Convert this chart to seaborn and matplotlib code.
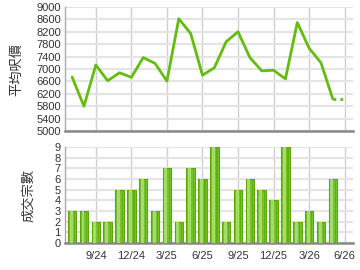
import matplotlib
matplotlib.use("Agg")
import matplotlib.pyplot as plt
import seaborn as sns
import numpy as np
import pandas as pd

months = ["7/24", "8/24", "9/24", "10/24", "11/24", "12/24", "1/25", "2/25", "3/25",
          "4/25", "5/25", "6/25", "7/25", "8/25", "9/25", "10/25", "11/25", "12/25",
          "1/26", "2/26", "3/26", "4/26", "5/26"]
avg_price = [6740, 5800, 7130, 6620, 6880, 6730, 7370, 7180, 6610,
             8620, 8150, 6800, 7040, 7880, 8200, 7370, 6940, 6960,
             6680, 8500, 7670, 7200, 6030]
deals = [3, 3, 2, 2, 5, 5, 6, 3, 7, 2, 7, 6, 9, 2, 5, 6, 5, 4, 9, 2, 3, 2, 6]
tick_labels = ["9/24", "12/24", "3/25", "6/25", "9/25", "12/25", "3/26", "6/26"]
tick_pos = [2, 5, 8, 11, 14, 17, 20, 23]

sns.set_theme(style="white")
plt.rcParams['font.family'] = ['Liberation Sans', 'DejaVu Sans']

df = pd.DataFrame({"idx": np.arange(len(months)), "month": months,
                   "price": avg_price, "deals": deals})

fig = plt.figure(figsize=(3.6, 2.7), dpi=100)
ax1 = fig.add_axes([65/360, 1-131/270, 288/360, 124/270])
ax2 = fig.add_axes([65/360, 1-243/270, 288/360, 96/270])

line_col = "#66bb11"
hgrid = "#e4e4e4"
vgrid = "#cfcfcf"
tick_col = "#333333"
cjk = ['Noto Sans CJK TC', 'DejaVu Sans']

for ax in (ax1, ax2):
    ax.set_xlim(-0.6, 23.7)
    for t in tick_pos:
        ax.axvline(t, color=vgrid, lw=1, zorder=0)
    for s in ("top", "right"):
        ax.spines[s].set_visible(False)
    ax.spines["left"].set_color("#aaaaaa")
    ax.spines["left"].set_linewidth(1)
    ax.spines["bottom"].set_color("#888888")
    ax.spines["bottom"].set_linewidth(1.8)
    ax.tick_params(axis="y", length=0, labelsize=8, colors=tick_col, pad=3)

# Top: line chart
yt1 = np.arange(5000, 9001, 400)
for v in yt1:
    ax1.axhline(v, color=hgrid, lw=1.6, zorder=0)
sns.lineplot(data=df, x="idx", y="price", ax=ax1, color=line_col, lw=2, zorder=3)
ax1.plot([df["idx"].iloc[-1], df["idx"].iloc[-1] + 1],
         [avg_price[-1], avg_price[-1]], color=line_col, lw=2, ls=(0, (1, 1.5)), zorder=3)
ax1.set_ylim(5000, 9000)
ax1.set_yticks(yt1)
ax1.set_yticklabels([str(v) for v in yt1])
ax1.set_xticks(tick_pos)
ax1.set_xticklabels([])
ax1.tick_params(axis="x", length=0)
ax1.set_xlabel("")
ax1.set_ylabel("平均呎價", family=cjk, fontsize=9.5, color=tick_col, labelpad=9)

# Bottom: bar chart
yt2 = np.arange(0, 10)
for v in yt2:
    ax2.axhline(v, color=hgrid, lw=1.6, zorder=0)
sns.barplot(data=df, x="idx", y="deals", ax=ax2, color="#77c230", width=0.72,
            native_scale=True, edgecolor="#5aa800", linewidth=0.8, zorder=2, saturation=1)
# highlight stripe for gradient look
ax2.bar(df["idx"] - 0.08, df["deals"], width=0.25, color="#a6db6a", zorder=3, linewidth=0)
ax2.bar(df["idx"] + 0.22, df["deals"], width=0.1, color="#5fae12", zorder=3, linewidth=0)
ax2.set_ylim(0, 9)
ax2.set_yticks(yt2)
ax2.set_yticklabels([str(v) for v in yt2])
ax2.set_xlim(-0.6, 23.7)
ax2.set_xticks(tick_pos)
ax2.set_xticklabels(tick_labels)
ax2.tick_params(axis="x", length=4, width=1, color="#888888", labelsize=8,
                colors=tick_col, pad=2)
ax2.set_xlabel("")
ax2.set_ylabel("成交宗數", family=cjk, fontsize=9.5, color=tick_col, labelpad=14)

fig.savefig("out.png", dpi=100)
